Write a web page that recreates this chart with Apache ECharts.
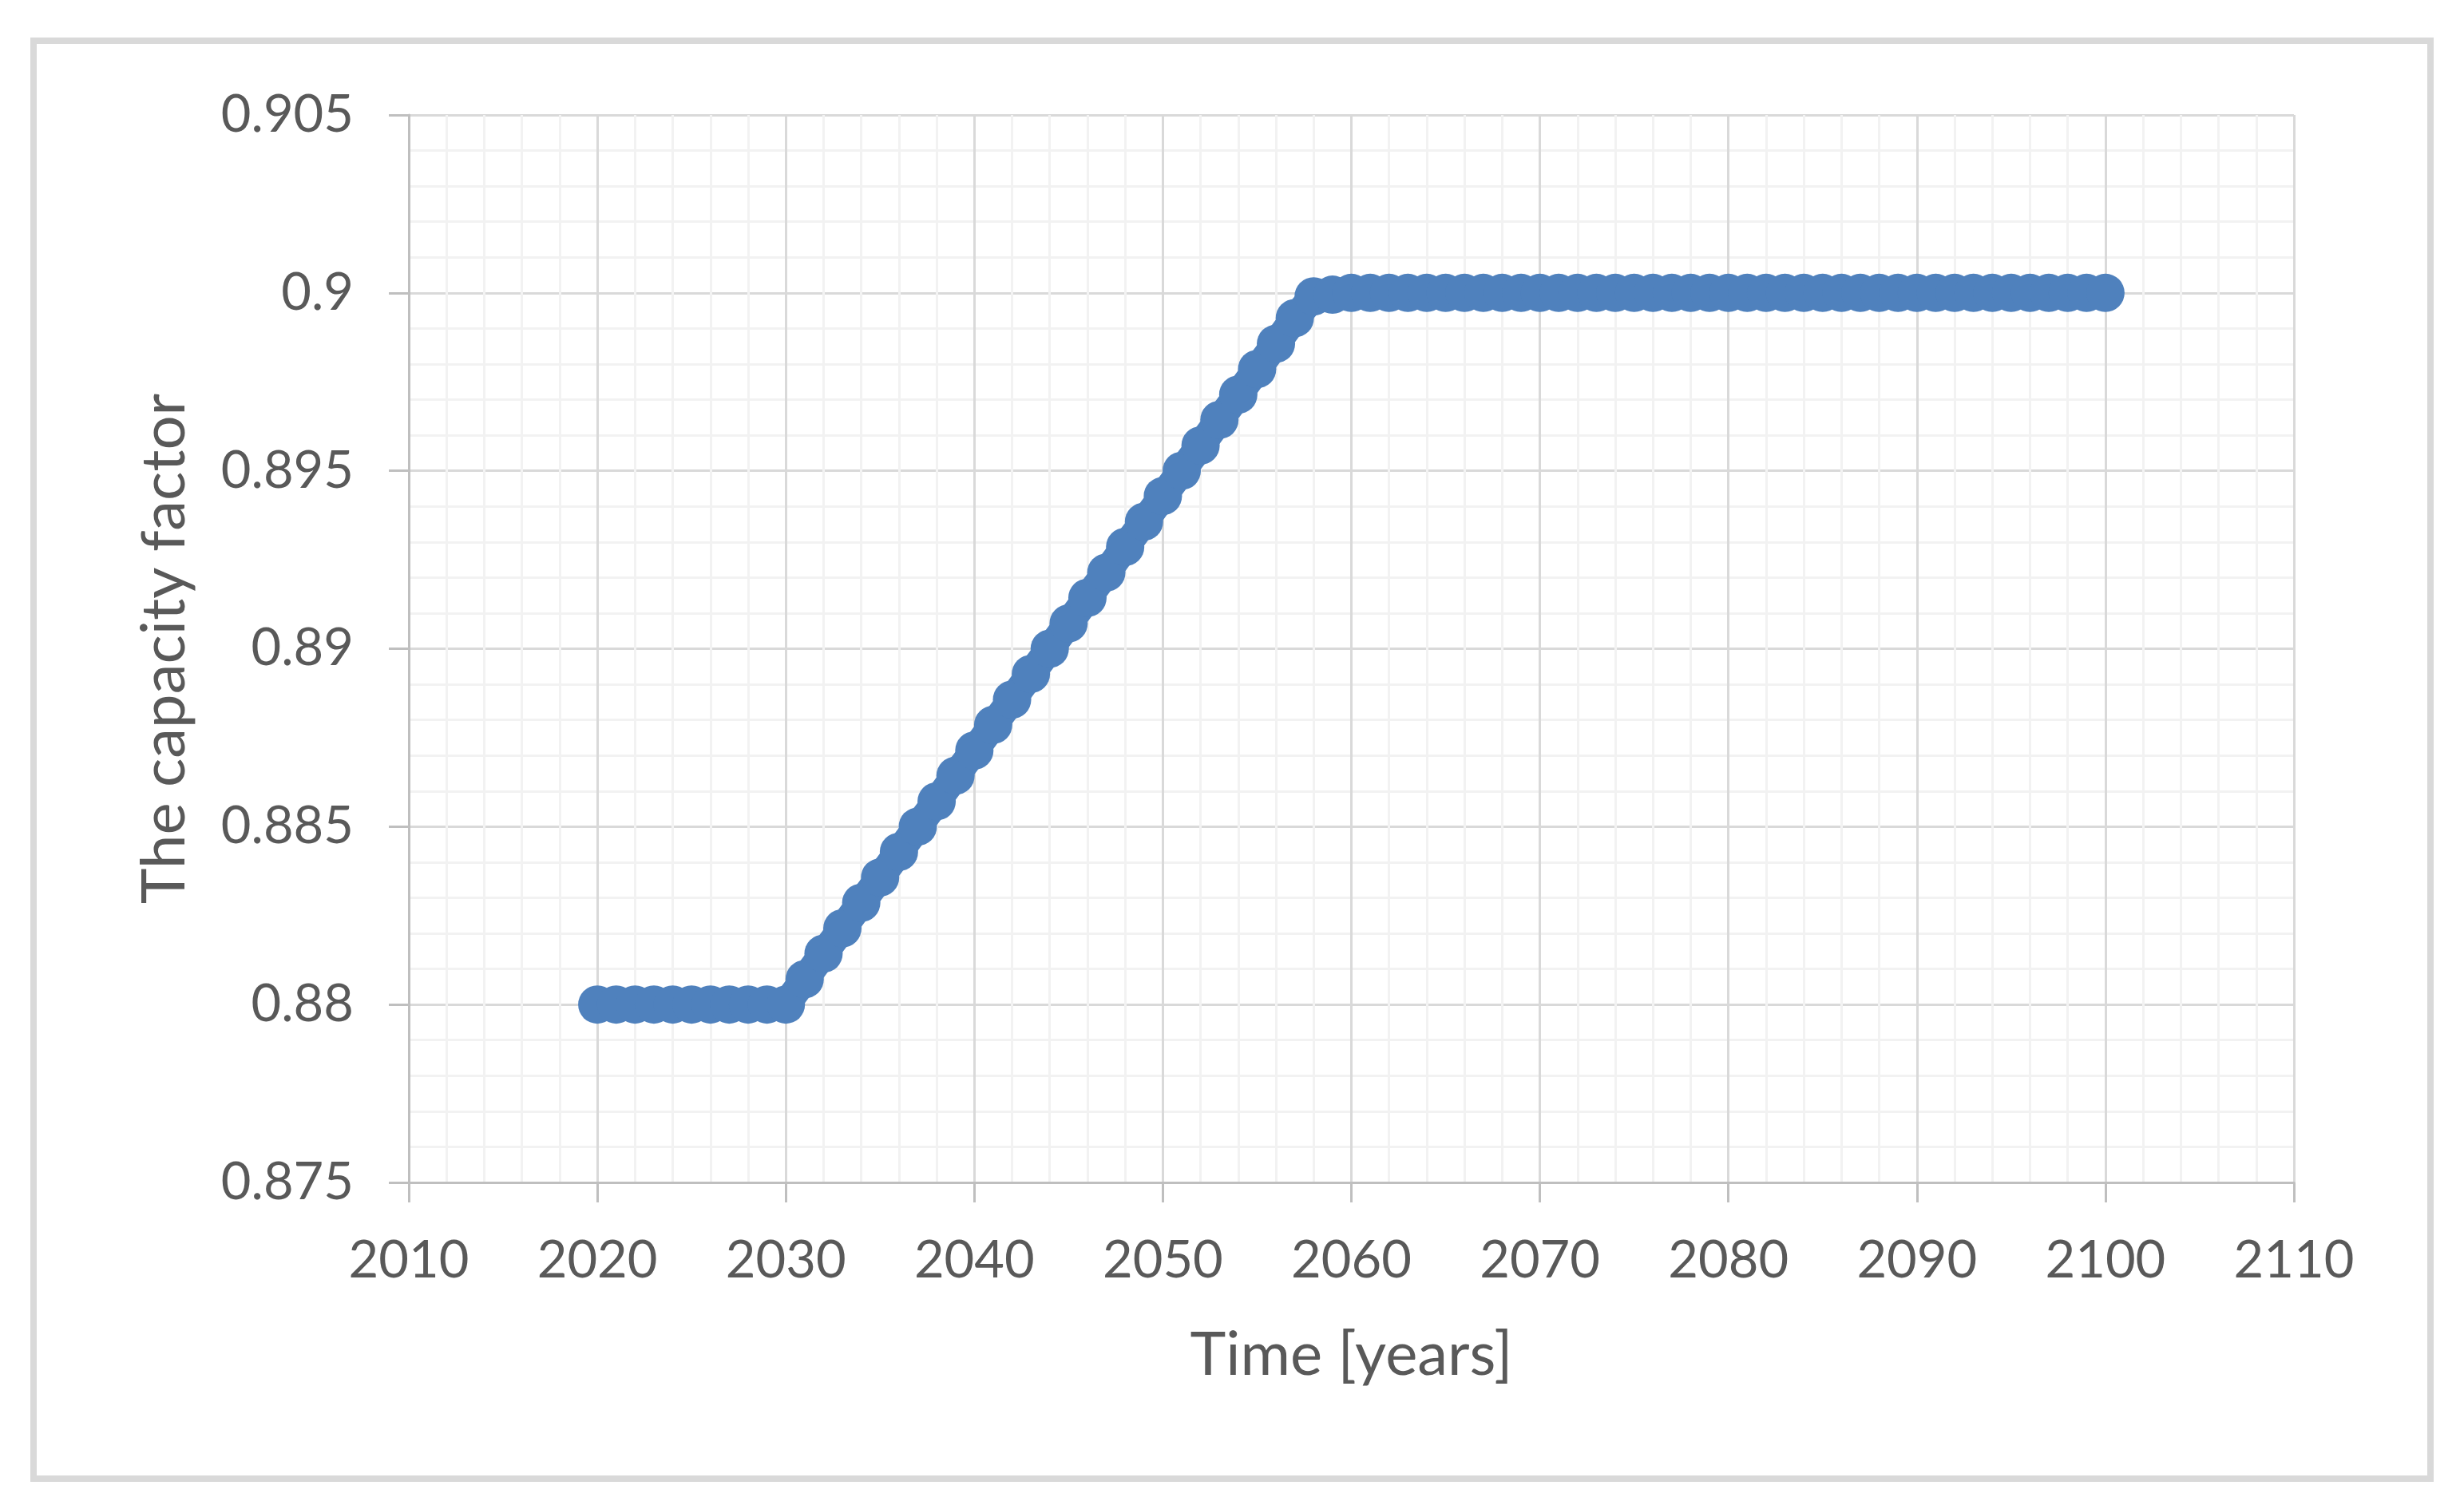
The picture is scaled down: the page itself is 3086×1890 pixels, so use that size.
<!DOCTYPE html>
<html>
<head>
<meta charset="utf-8">
<script src="https://cdn.jsdelivr.net/npm/echarts@6/dist/echarts.min.js"></script>
<style>
  html, body { margin: 0; padding: 0; background: #ffffff; }
  #chart { width: 3086px; height: 1890px; }
</style>
</head>
<body>
<div id="chart"></div>
<script>
// ---- data ----
var years = [
  2020, 2021, 2022, 2023, 2024, 2025, 2026, 2027, 2028, 2029,
  2030, 2031, 2032, 2033, 2034, 2035, 2036, 2037, 2038, 2039,
  2040, 2041, 2042, 2043, 2044, 2045, 2046, 2047, 2048, 2049,
  2050, 2051, 2052, 2053, 2054, 2055, 2056, 2057, 2058, 2059,
  2060, 2061, 2062, 2063, 2064, 2065, 2066, 2067, 2068, 2069,
  2070, 2071, 2072, 2073, 2074, 2075, 2076, 2077, 2078, 2079,
  2080, 2081, 2082, 2083, 2084, 2085, 2086, 2087, 2088, 2089,
  2090, 2091, 2092, 2093, 2094, 2095, 2096, 2097, 2098, 2099,
  2100
];
var capacityFactor = [
  0.88, 0.88, 0.88, 0.88, 0.88, 0.88, 0.88, 0.88, 0.88, 0.88,
  0.88, 0.88071, 0.88143, 0.88214, 0.88286, 0.88357, 0.88429, 0.885, 0.88571, 0.88643,
  0.88714, 0.88786, 0.88857, 0.88929, 0.89, 0.89071, 0.89143, 0.89214, 0.89286, 0.89357,
  0.89429, 0.895, 0.89571, 0.89643, 0.89714, 0.89786, 0.89857, 0.89929, 0.8999, 0.89995,
  0.9, 0.9, 0.9, 0.9, 0.9, 0.9, 0.9, 0.9, 0.9, 0.9,
  0.9, 0.9, 0.9, 0.9, 0.9, 0.9, 0.9, 0.9, 0.9, 0.9,
  0.9, 0.9, 0.9, 0.9, 0.9, 0.9, 0.9, 0.9, 0.9, 0.9,
  0.9, 0.9, 0.9, 0.9, 0.9, 0.9, 0.9, 0.9, 0.9, 0.9,
  0.9
];
var xTicks = [2010, 2020, 2030, 2040, 2050, 2060, 2070, 2080, 2090, 2100, 2110];
var yTicks = [0.875, 0.88, 0.885, 0.89, 0.895, 0.9, 0.905];
var xTitle = 'Time [years]';
var yTitle = 'The capacity factor';

// ---- chart ----
var seriesData = years.map(function (y, i) { return [y, capacityFactor[i]]; });
var FONT = 'Lato';
var TEXT = '#595959';

var chart = echarts.init(document.getElementById('chart'), null, { renderer: 'canvas' });
chart.setOption({
  animation: false,
  backgroundColor: '#ffffff',
  graphic: [{
    type: 'rect',
    silent: true,
    shape: { x: 42, y: 51, width: 3002, height: 1801 },
    style: { fill: 'none', stroke: '#d9d9d9', lineWidth: 8 }
  }],
  grid: { left: 512, right: 213, top: 144, bottom: 409, containLabel: false },
  xAxis: {
    type: 'value',
    min: xTicks[0],
    max: xTicks[xTicks.length - 1],
    interval: xTicks[1] - xTicks[0],
    name: xTitle,
    nameLocation: 'middle',
    nameGap: 178,
    nameTextStyle: { fontFamily: FONT, fontSize: 76, color: TEXT },
    axisLine: { show: true, lineStyle: { color: '#bfbfbf', width: 3 } },
    axisTick: { show: true, inside: false, length: 25, lineStyle: { color: '#bfbfbf', width: 3 } },
    axisLabel: {
      fontFamily: FONT, fontSize: 65, color: TEXT, margin: 66,
      formatter: function (v) { return String(Math.round(v)); }
    },
    splitLine: { show: true, lineStyle: { color: '#d9d9d9', width: 3 } },
    minorTick: { show: false, splitNumber: 5 },
    minorSplitLine: { show: true, lineStyle: { color: '#f2f2f2', width: 3 } }
  },
  yAxis: {
    type: 'value',
    min: yTicks[0],
    max: yTicks[yTicks.length - 1],
    interval: 0.005,
    name: yTitle,
    nameLocation: 'middle',
    nameGap: 268,
    nameTextStyle: { fontFamily: FONT, fontSize: 76, color: TEXT },
    axisLine: { show: true, lineStyle: { color: '#bfbfbf', width: 3 } },
    axisTick: { show: true, inside: false, length: 25, lineStyle: { color: '#bfbfbf', width: 3 } },
    axisLabel: {
      fontFamily: FONT, fontSize: 65, color: TEXT, margin: 69,
      formatter: function (v) { return String(parseFloat(v.toFixed(3))); }
    },
    splitLine: { show: true, lineStyle: { color: '#d9d9d9', width: 3 } },
    minorTick: { show: false, splitNumber: 5 },
    minorSplitLine: { show: true, lineStyle: { color: '#f2f2f2', width: 3 } }
  },
  series: [{
    type: 'line',
    data: seriesData,
    symbol: 'circle',
    symbolSize: 48,
    showSymbol: true,
    clip: false,
    itemStyle: { color: '#4f81bd', borderWidth: 0 },
    lineStyle: { color: '#4f81bd', width: 36, cap: 'round', join: 'round' }
  }]
});
</script>
</body>
</html>
